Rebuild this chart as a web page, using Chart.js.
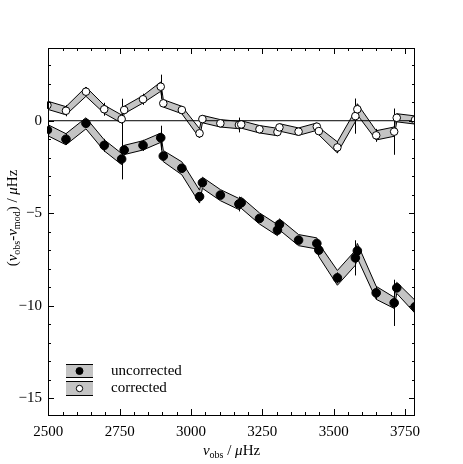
<!DOCTYPE html>
<html>
<head>
<meta charset="utf-8">
<script src="https://cdn.jsdelivr.net/npm/chart.js@4"></script>
<style>
  html, body { margin: 0; padding: 0; background: #fff; }
  #wrap { width: 463px; height: 464px; }
</style>
</head>
<body>
<div id="wrap"><canvas id="chart" width="463" height="464"></canvas></div>
<script>
// frequencies (muHz) shared by both series
const freq = [2497, 2562, 2632, 2696, 2757, 2766, 2832, 2894, 2903, 2968, 3030, 3040, 3103, 3168,
              3176, 3240, 3303, 3310, 3377, 3441, 3448, 3513, 3576, 3583, 3649, 3712, 3721, 3785];
const uncorrected = [-0.5, -1.0, -0.14, -1.33, -2.07, -1.58, -1.33, -0.92, -1.91, -2.57, -4.1, -3.35, -4.02, -4.5,
                     -4.43, -5.28, -5.91, -5.6, -6.45, -6.63, -6.99, -8.49, -7.41, -7.03, -9.3, -9.84, -9.03, -10.05];
const corrected = [0.84, 0.54, 1.57, 0.62, 0.09, 0.58, 1.16, 1.84, 0.94, 0.58, -0.68, 0.09, -0.14, -0.23,
                   -0.2, -0.46, -0.61, -0.36, -0.59, -0.32, -0.56, -1.44, 0.25, 0.62, -0.79, -0.59, 0.16, 0.04];
const errors = [0.2, 0.3, 0.2, 0.35, 1.1, 0, 0.3, 0.65, 0, 0, 0.2, 0, 0, 0.4,
                0, 0, 0.2, 0, 0.15, 0.15, 0, 0.3, 0.95, 0, 0.35, 1.25, 0, 0];
// half width of the shaded band round each point
const bandUnc = [0.3, 0.3, 0.3, 0.3, 0.3, 0.25, 0.25, 0.25, 0.3, 0.35, 0.35, 0.3, 0.3, 0.3,
                 0.3, 0.3, 0.3, 0.3, 0.3, 0.3, 0.35, 0.4, 0.4, 0.4, 0.35, 0.3, 0.3, 0.35];
const bandCor = [0.22, 0.22, 0.25, 0.22, 0.22, 0.2, 0.2, 0.25, 0.2, 0.2, 0.25, 0.2, 0.2, 0.2,
                 0.2, 0.2, 0.2, 0.2, 0.2, 0.2, 0.2, 0.3, 0.3, 0.3, 0.25, 0.25, 0.22, 0.22];
const xTicks = [2500, 2750, 3000, 3250, 3500, 3750];
const yTicks = [-15, -10, -5, 0];

const FONT = 'Liberation Serif';
const pts = (ys, d) => freq.map((x, i) => ({ x: x, y: ys[i] + (d ? d[i] : 0) }));
const neg = d => d.map(v => -v);

function bandLine(data, fill) {
  return {
    data: data, showLine: true, pointRadius: 0, borderColor: '#000', borderWidth: 1,
    fill: fill ? '-1' : false, backgroundColor: '#c4c4c4', order: 10
  };
}

function drawRich(ctx, runs, x, y) {
  let w = 0;
  runs.forEach(r => { ctx.font = r[1]; w += ctx.measureText(r[0]).width; });
  let cx = x - w / 2;
  ctx.textBaseline = 'middle';
  ctx.textAlign = 'left';
  runs.forEach(r => {
    ctx.font = r[1];
    ctx.fillText(r[0], cx, y + (r[2] || 0));
    cx += ctx.measureText(r[0]).width;
  });
}

const extras = {
  id: 'extras',
  beforeDatasetsDraw(chart) {
    const { ctx, chartArea: a, scales: { y } } = chart;
    const y0 = y.getPixelForValue(0);
    ctx.save();
    ctx.strokeStyle = '#000';
    ctx.lineWidth = 1;
    ctx.beginPath();
    ctx.moveTo(a.left, y0);
    ctx.lineTo(a.right, y0);
    ctx.stroke();
    ctx.restore();
  },
  beforeDatasetDraw(chart, args) {
    const ds = chart.data.datasets[args.index];
    if (!ds.errors) return;
    const { ctx, scales: { x, y } } = chart;
    ctx.save();
    ctx.strokeStyle = '#000';
    ctx.lineWidth = 1;
    ds.data.forEach((p, i) => {
      const e = ds.errors[i];
      if (!e) return;
      const px = Math.round(x.getPixelForValue(p.x)) + 0.5;
      ctx.beginPath();
      ctx.moveTo(px, y.getPixelForValue(p.y - e));
      ctx.lineTo(px, y.getPixelForValue(p.y + e));
      ctx.stroke();
    });
    ctx.restore();
  },
  afterDatasetsDraw(chart) {
    const { ctx, chartArea: a, scales: { x, y } } = chart;
    ctx.save();
    ctx.strokeStyle = '#000';
    ctx.lineWidth = 1;
    ctx.strokeRect(a.left + 0.5, a.top + 0.5, a.right - a.left - 1, a.bottom - a.top);
    ctx.beginPath();
    for (let v = 2500; v <= 3785; v += 50) {
      const px = Math.round(x.getPixelForValue(v)) + 0.5;
      const len = v % 250 === 0 ? 6 : 3;
      ctx.moveTo(px, a.bottom); ctx.lineTo(px, a.bottom - len);
      ctx.moveTo(px, a.top); ctx.lineTo(px, a.top + len);
    }
    for (let v = -15; v <= 3; v += 1) {
      const py = Math.round(y.getPixelForValue(v)) + 0.5;
      const len = v % 5 === 0 ? 6 : 3;
      ctx.moveTo(a.left, py); ctx.lineTo(a.left + len, py);
      ctx.moveTo(a.right, py); ctx.lineTo(a.right - len, py);
    }
    ctx.stroke();

    // legend
    const lx = 66, lw = 27;
    const rows = [
      { top: 364, bot: 377, fill: '#000', r: 3.5, label: 'uncorrected' },
      { top: 381, bot: 395, fill: '#fff', r: 3.2, label: 'corrected' }
    ];
    rows.forEach(r => {
      ctx.fillStyle = '#c4c4c4';
      ctx.fillRect(lx, r.top, lw, r.bot - r.top);
      ctx.beginPath();
      ctx.moveTo(lx, r.top + 0.5); ctx.lineTo(lx + lw, r.top + 0.5);
      ctx.moveTo(lx, r.bot + 0.5); ctx.lineTo(lx + lw, r.bot + 0.5);
      ctx.stroke();
      const cy = (r.top + r.bot) / 2 + 0.5;
      ctx.beginPath();
      ctx.arc(lx + lw / 2, cy, r.r, 0, Math.PI * 2);
      ctx.fillStyle = r.fill;
      ctx.fill();
      ctx.stroke();
      ctx.fillStyle = '#000';
      ctx.font = '15px ' + FONT;
      ctx.textBaseline = 'middle';
      ctx.textAlign = 'left';
      ctx.fillText(r.label, 111, cy);
    });

    // axis titles
    const main = '15px ' + FONT, it = 'italic 15px ' + FONT, sub = '10px ' + FONT;
    ctx.fillStyle = '#000';
    drawRich(ctx, [['\u03bd', it], ['obs', sub, 4], [' / ', main], ['\u03bc', it], ['Hz', main]],
      (a.left + a.right) / 2, 451);
    ctx.translate(13, 218);
    ctx.rotate(-Math.PI / 2);
    drawRich(ctx, [['(', main], ['\u03bd', it], ['obs', sub, 4], ['-', main], ['\u03bd', it], ['mod', sub, 4],
      [') / ', main], ['\u03bc', it], ['Hz', main]], 0, 0);
    ctx.restore();
  }
};

new Chart(document.getElementById('chart'), {
  type: 'scatter',
  data: {
    datasets: [
      bandLine(pts(uncorrected, bandUnc), false),
      bandLine(pts(uncorrected, neg(bandUnc)), true),
      bandLine(pts(corrected, bandCor), false),
      bandLine(pts(corrected, neg(bandCor)), true),
      {
        label: 'uncorrected', data: pts(uncorrected), errors: errors, showLine: false,
        pointRadius: 4.3, backgroundColor: '#000', borderColor: '#000', borderWidth: 1, order: 2
      },
      {
        label: 'corrected', data: pts(corrected), errors: errors, showLine: false,
        pointRadius: 3.8, backgroundColor: '#fff', borderColor: '#000', borderWidth: 1, order: 1
      }
    ]
  },
  options: {
    responsive: false,
    animation: false,
    layout: { padding: { left: 0, top: 48, right: 48, bottom: 0 } },
    plugins: {
      legend: { display: false },
      tooltip: { enabled: false },
      filler: { drawTime: 'beforeDatasetsDraw' }
    },
    scales: {
      x: {
        type: 'linear', min: 2499, max: 3785,
        grid: { display: false, drawTicks: false },
        border: { display: false },
        afterBuildTicks: s => { s.ticks = xTicks.map(v => ({ value: v })); },
        afterFit: s => { s.height = 49; },
        ticks: {
          color: '#000', font: { family: FONT, size: 15 }, padding: 8, maxRotation: 0, autoSkip: false,
          callback: v => String(v)
        }
      },
      y: {
        type: 'linear', min: -15.9, max: 3.93,
        grid: { display: false, drawTicks: false },
        border: { display: false },
        afterBuildTicks: s => { s.ticks = yTicks.map(v => ({ value: v })); },
        afterFit: s => { s.width = 48; },
        ticks: {
          color: '#000', font: { family: FONT, size: 15 }, padding: 6,
          callback: v => (v < 0 ? '\u2212' + Math.abs(v) : String(v))
        }
      }
    }
  },
  plugins: [extras]
});
</script>
</body>
</html>
